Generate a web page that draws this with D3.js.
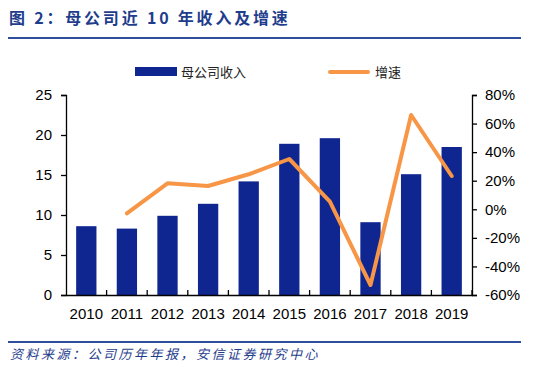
<!DOCTYPE html>
<html>
<head>
<meta charset="utf-8">
<script src="https://cdn.jsdelivr.net/npm/d3@7"></script>
<style>
  body { margin: 0; background: #fff; }
  svg { display: block; }
</style>
</head>
<body>
<svg id="chart" width="538" height="368" viewBox="0 0 538 368"></svg>
<script>
// data
const years = ["2010", "2011", "2012", "2013", "2014", "2015", "2016", "2017", "2018", "2019"];
const revenue = [8.6, 8.3, 9.9, 11.4, 14.2, 18.9, 19.6, 9.1, 15.1, 18.5];
const growth = [null, -2.8, 18.2, 16.3, 24.5, 35.2, 5.3, -53, 66, 23.3];
const leftTicks = [0, 5, 10, 15, 20, 25];
const rightTicks = [-60, -40, -20, 0, 20, 40, 60, 80];

const svg = d3.select("#chart");
const font = "'Liberation Sans', Arial, sans-serif";
const barColor = "#0F258F";
const lineColor = "#F79646";
const margin = {top: 95, right: 66, bottom: 73, left: 66};
const W = 538, H = 368;

// title
svg.append("text")
  .attr("x", 9).attr("y", 24)
  .attr("fill", "#1F3D8C")
  .attr("font-family", "'Noto Sans CJK SC', sans-serif")
  .attr("font-weight", "bold")
  .attr("font-size", "16px")
  .attr("letter-spacing", "2.8px")
  .text("图 2：母公司近 10 年收入及增速");
svg.append("line")
  .attr("x1", 8).attr("x2", 521).attr("y1", 38).attr("y2", 38)
  .attr("stroke", "#2E4E9C").attr("stroke-width", 2);

const x = d3.scaleBand().domain(years).range([margin.left, W - margin.right]).paddingInner(0.5).paddingOuter(0.25);
const xTick = d3.scaleBand().domain(years).range([margin.left, W - margin.right]);
const y = d3.scaleLinear().domain([0, 25]).range([H - margin.bottom, margin.top]);
const y2 = d3.scaleLinear().domain([-60, 80]).range([H - margin.bottom, margin.top]);

// bars
svg.selectAll("rect.bar")
  .data(years)
  .enter()
  .append("rect")
  .attr("class", "bar")
  .attr("x", d => x(d))
  .attr("width", x.bandwidth())
  .attr("y", (d, i) => y(revenue[i]))
  .attr("height", (d, i) => y(0) - y(revenue[i]))
  .attr("fill", barColor);

// axes
const axisL = svg.append("g")
  .attr("transform", `translate(${margin.left},0)`)
  .call(d3.axisLeft(y).tickValues(leftTicks).tickSize(5).tickSizeOuter(5).tickPadding(9));
const axisR = svg.append("g")
  .attr("transform", `translate(${W - margin.right},0)`)
  .call(d3.axisRight(y2).tickValues(rightTicks).tickFormat(d => d + "%").tickSize(5).tickSizeOuter(5).tickPadding(8));
const axisB = svg.append("g")
  .attr("transform", `translate(0,${H - margin.bottom})`)
  .call(d3.axisBottom(xTick).tickSize(5).tickSizeOuter(0).tickPadding(8));
// bottom ticks sit on category boundaries
axisB.selectAll(".tick line")
  .attr("x1", xTick.bandwidth() / 2).attr("x2", xTick.bandwidth() / 2)
  .attr("y1", 0).attr("y2", -5);

[axisL, axisR, axisB].forEach(g => {
  g.selectAll("path, line").attr("stroke", "#000").attr("stroke-width", 1.3);
  g.selectAll("text").attr("font-family", font).attr("font-size", "15px").attr("fill", "#000");
});

// growth line
const line = d3.line()
  .defined(d => d[1] !== null)
  .x(d => x(d[0]) + x.bandwidth() / 2)
  .y(d => y2(d[1]));
svg.append("path")
  .datum(years.map((yr, i) => [yr, growth[i]]))
  .attr("d", line)
  .attr("fill", "none")
  .attr("stroke", lineColor)
  .attr("stroke-width", 4)
  .attr("stroke-linejoin", "round")
  .attr("stroke-linecap", "round");

// legend
const legend = svg.append("g").attr("font-family", "'Noto Sans CJK SC', sans-serif").attr("font-size", "13px");
legend.append("rect").attr("x", 135).attr("y", 67).attr("width", 42).attr("height", 9).attr("fill", barColor);
legend.append("text").attr("x", 181).attr("y", 77).attr("fill", "#222").text("母公司收入");
legend.append("line").attr("x1", 330).attr("x2", 368).attr("y1", 72).attr("y2", 72)
  .attr("stroke", lineColor).attr("stroke-width", 4).attr("stroke-linecap", "round");
legend.append("text").attr("x", 375).attr("y", 77).attr("fill", "#222").text("增速");

// source
svg.append("line")
  .attr("x1", 8).attr("x2", 521).attr("y1", 342).attr("y2", 342)
  .attr("stroke", "#2E4E9C").attr("stroke-width", 2);
svg.append("text")
  .attr("x", 10).attr("y", 359)
  .attr("fill", "#1F3D8C")
  .attr("font-family", "'Noto Sans CJK SC', sans-serif")
  .attr("font-style", "italic")
  .attr("font-size", "13px")
  .attr("letter-spacing", "2.5px")
  .text("资料来源：公司历年年报，安信证券研究中心");
</script>
</body>
</html>
